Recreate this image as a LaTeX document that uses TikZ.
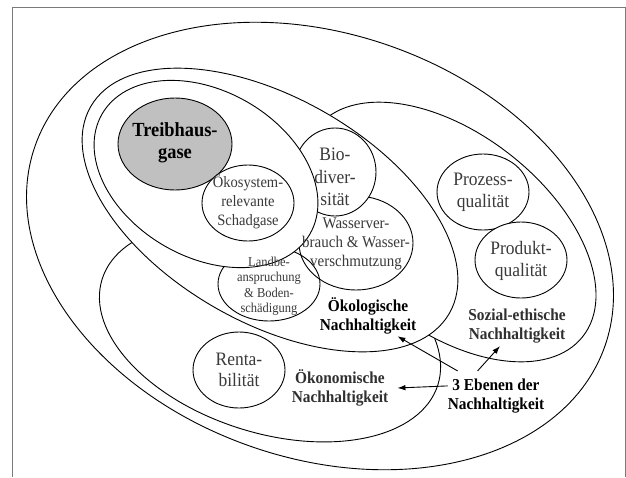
\documentclass[tikz,border=0pt]{standalone}
\usepackage{fontspec}
\setmainfont{Liberation Serif}[FakeStretch=0.92]
\usetikzlibrary{arrows.meta,calc}
\definecolor{framegray}{HTML}{7A7A7A}
\definecolor{fillgray}{HTML}{C0C0C0}
\definecolor{txtgray}{HTML}{3A3A3A}
\definecolor{headgray}{HTML}{303030}
\begin{document}
\begin{tikzpicture}[x=1pt,y=-1pt,
  ring/.style={draw=black, line width=0.9pt},
  disc/.style={ring, fill=white},
  lbl/.style={align=center, inner sep=0pt, text=txtgray},
  head/.style={align=center, inner sep=0pt, font=\bfseries\fontsize{16.7}{18.5}\selectfont},
  arr/.style={line width=0.9pt, -{Latex[length=8pt,width=5.5pt]}}]
\useasboundingbox (0,0) rectangle (626,477);
% frame
\draw[framegray, line width=1pt] (12.5,477) -- (12.5,7) -- (625,7) -- (625,477);

% outer ellipse: the three levels of sustainability
\draw[ring, rotate around={-19.4:(320,246)}] (320,246) ellipse [x radius=302, y radius=212];
% economic sustainability
\draw[disc, rotate around={-17.5:(270,332)}] (270,332) ellipse [x radius=176, y radius=101];
% social-ethical sustainability
\draw[disc, rotate around={-38.2:(450,232)}] (450,232) ellipse [x radius=169, y radius=98];
% ecological sustainability
\draw[disc, rotate around={-30:(270,210)}] (270,210) ellipse [x radius=207, y radius=112];

% ecological topics
\draw[disc] (356,243) ellipse [x radius=57, y radius=47];
\draw[disc] (335,172) ellipse [x radius=41, y radius=44];
\draw[ring] (269,284) ellipse [x radius=51, y radius=37];
% emissions ring
\draw[disc, rotate around={-30:(206,174)}] (206,174) ellipse [x radius=120, y radius=83];
\draw[ring, fill=fillgray] (175,144) ellipse [x radius=57, y radius=46];
\draw[disc] (248,203) ellipse [x radius=46, y radius=38];

% social-ethical topics
\draw[disc] (483,192) ellipse [x radius=46, y radius=38];
\draw[disc] (521,260) ellipse [x radius=46, y radius=38];
% economic topic
\draw[disc] (239,370) ellipse [x radius=46, y radius=38];

% texts
\node[align=center, inner sep=0pt, font=\bfseries\fontsize{20}{21.7}\selectfont] (treib) at (175,143) {Treibhaus-\\gase};
\node[lbl, font=\fontsize{15.8}{19}\selectfont] (oekosys) at (248,202) {Ökosystem-\\relevante\\Schadgase};
\node[lbl, font=\fontsize{19}{22.5}\selectfont] (bio) at (335,177) {Bio-\\diver-\\sität};
\node[lbl, font=\fontsize{16.3}{19}\selectfont] (wasser) at (356,244) {Wasserver-\\brauch \& Wasser-\\verschmutzung};
\node[lbl, font=\fontsize{13.6}{15.5}\selectfont] (landbe) at (269,286) {Landbe-\\anspruchung\\\& Boden-\\schädigung};
\node[lbl, font=\fontsize{19}{21.7}\selectfont] (prozess) at (483,192) {Prozess-\\qualität};
\node[lbl, font=\fontsize{19}{21.7}\selectfont] (produkt) at (521,261) {Produkt-\\qualität};
\node[lbl, font=\fontsize{19}{21.7}\selectfont] (renta) at (239,370) {Renta-\\bilität};

\node[head] (oekol) at (368,316) {Ökologische\\Nachhaltigkeit};
\node[head, text=headgray] (oekon) at (340,388) {Ökonomische\\Nachhaltigkeit};
\node[head, text=headgray] (soz) at (517,326) {Sozial-ethische\\Nachhaltigkeit};
\node[head] (eb) at (496,396) {3 Ebenen der\\Nachhaltigkeit};

% arrows from the caption to the three levels
\draw[arr] ($(eb.north west)+(10,-8)$) -- ($(oekol.south east)+(-19,2)$);
\draw[arr] ($(eb.north west)+(30,-8)$) -- ($(soz.south)+(-17,3)$);
\draw[arr] ($(eb.north west)+(0,7)$) -- ($(oekon.east)+(9,0)$);
\end{tikzpicture}
\end{document}
